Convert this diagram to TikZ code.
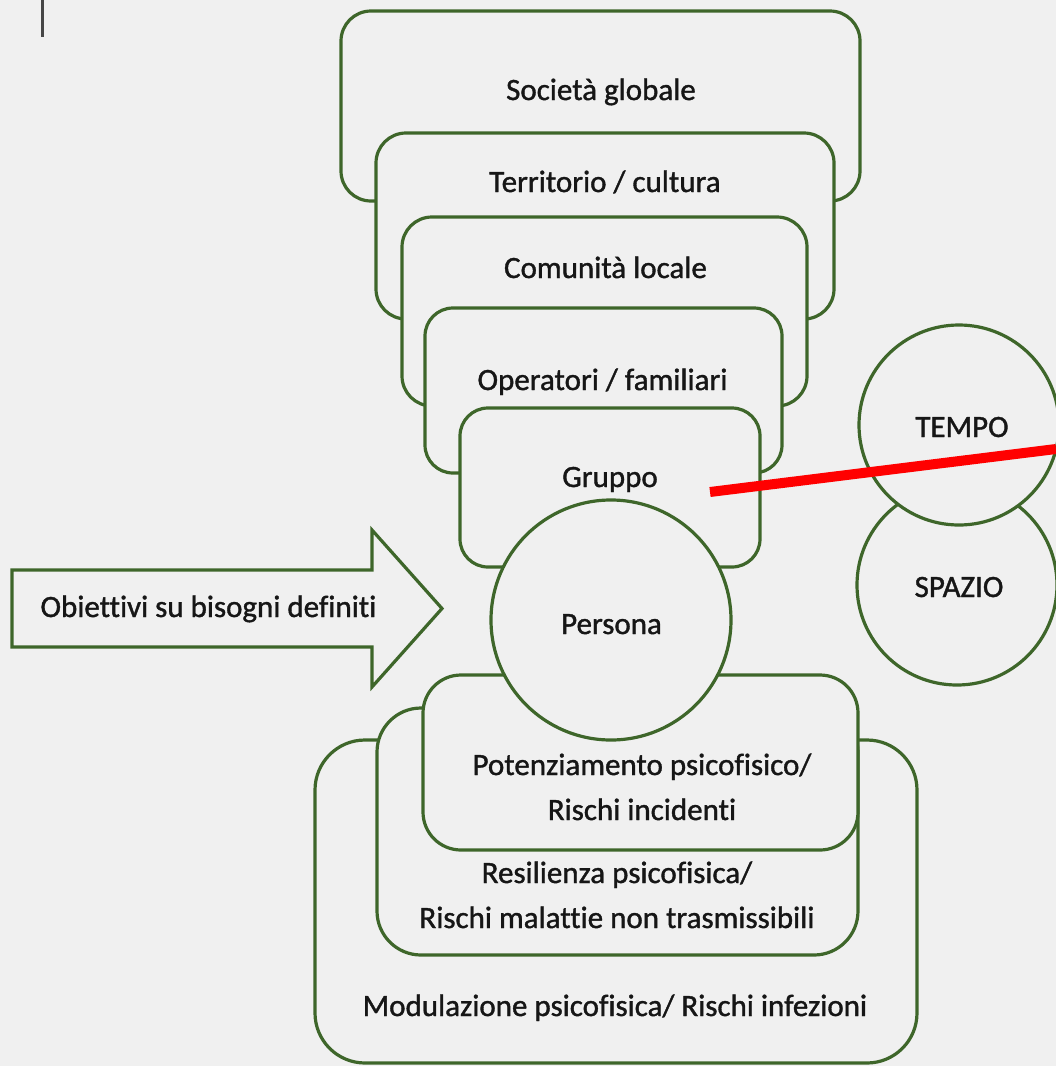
\documentclass[tikz,border=0pt]{standalone}
\usepackage{fontspec}
\setmainfont{Carlito}[Ligatures=NoCommon, UprightFeatures={FakeBold=1.2}]
\definecolor{paper}{RGB}{240,240,240}
\definecolor{leaf}{RGB}{62,102,42}
\definecolor{ink}{RGB}{22,22,22}
\definecolor{tickgray}{RGB}{70,70,70}
\begin{document}
\begin{tikzpicture}[x=1pt,y=-1pt,
  layer/.style={rectangle, draw=leaf, line width=3.2pt, fill=paper,
    inner sep=0pt, outer sep=0pt},
  ring/.style={circle, draw=leaf, line width=3.2pt, fill=paper,
    inner sep=0pt, outer sep=0pt},
  txt/.style={anchor=base, align=center, inner sep=0pt, text=ink,
    font=\fontsize{31}{45}\selectfont},
  bigarrow/.style={draw=leaf, line width=3.2pt, fill=paper, line join=miter}]

% page
\fill[paper] (0,0) rectangle (1056,1066);
\useasboundingbox (0,0) rectangle (1056,1066);

% small mark in the corner
\coordinate (tickT) at (42,0);
\coordinate (tickB) at (42,37);
\draw[tickgray, line width=3pt] (tickT) -- (tickB);

% nested upper levels, outermost first
\node[layer, rounded corners=30pt, minimum width=519pt, minimum height=190pt] (societa) at (600.5,106) {};
\node[layer, rounded corners=30pt, minimum width=458pt, minimum height=186pt] (territorio) at (605,226) {};
\node[layer, rounded corners=30pt, minimum width=405pt, minimum height=189pt] (comunita) at (604.5,311.5) {};
\node[layer, rounded corners=28pt, minimum width=357pt, minimum height=165pt] (operatori) at (603.5,390.5) {};
\node[layer, rounded corners=28pt, minimum width=300pt, minimum height=159pt] (gruppo) at (610,487.5) {};

\node[txt] (tSocieta) at (601,100) {Società globale};
\node[txt] (tTerritorio) at (605,192) {Territorio / cultura};
\node[txt] (tComunita) at (605.5,278) {Comunità locale};
\node[txt] (tOperatori) at (602.5,390) {Operatori / familiari};
\node[txt] (tGruppo) at (610,487) {Gruppo};

% nested lower levels, outermost first
\node[layer, rounded corners=50pt, minimum width=602pt, minimum height=323pt] (modulazione) at (616,901.5) {};
\node[layer, rounded corners=44pt, minimum width=481pt, minimum height=247pt] (resilienza) at (617.5,831.5) {};
\node[layer, rounded corners=38pt, minimum width=435pt, minimum height=175pt] (potenziamento) at (640.5,762.5) {};

% two-line labels: the base anchor sits on the last line
\node[txt] (tPotenziamento) at (642,820) {Potenziamento psicofisico/\\Rischi incidenti};
\node[txt] (tResilienza) at (617,928) {Resilienza psicofisica/\\Rischi malattie non trasmissibili};
\node[txt] (tModulazione) at (615,1016) {Modulazione psicofisica/ Rischi infezioni};

% the person at the centre
\node[ring, minimum size=240pt] (persona) at (611,620) {};
\node[txt] (tPersona) at (611.5,634) {Persona};

% time and space
\node[ring, minimum size=200pt] (spazio) at (957,585) {};
\node[ring, minimum size=200pt] (tempo) at (959,425) {};
\node[txt] (tTempo) at (962,437) {TEMPO};
\node[txt] (tSpazio) at (959,597) {SPAZIO};

% goals arrow
\draw[bigarrow] (12,570) -- (372,570) -- (372,530) -- (442,608.5)
  -- (372,687) -- (372,647) -- (12,647) -- cycle;
\node[txt] (tObiettivi) at (208.5,617) {Obiettivi su bisogni definiti};

% red marker line
\coordinate (redA) at (710,492);
\coordinate (redB) at (1056,449);
\draw[red, line width=10pt] (redA) -- (redB);
\end{tikzpicture}
\end{document}
